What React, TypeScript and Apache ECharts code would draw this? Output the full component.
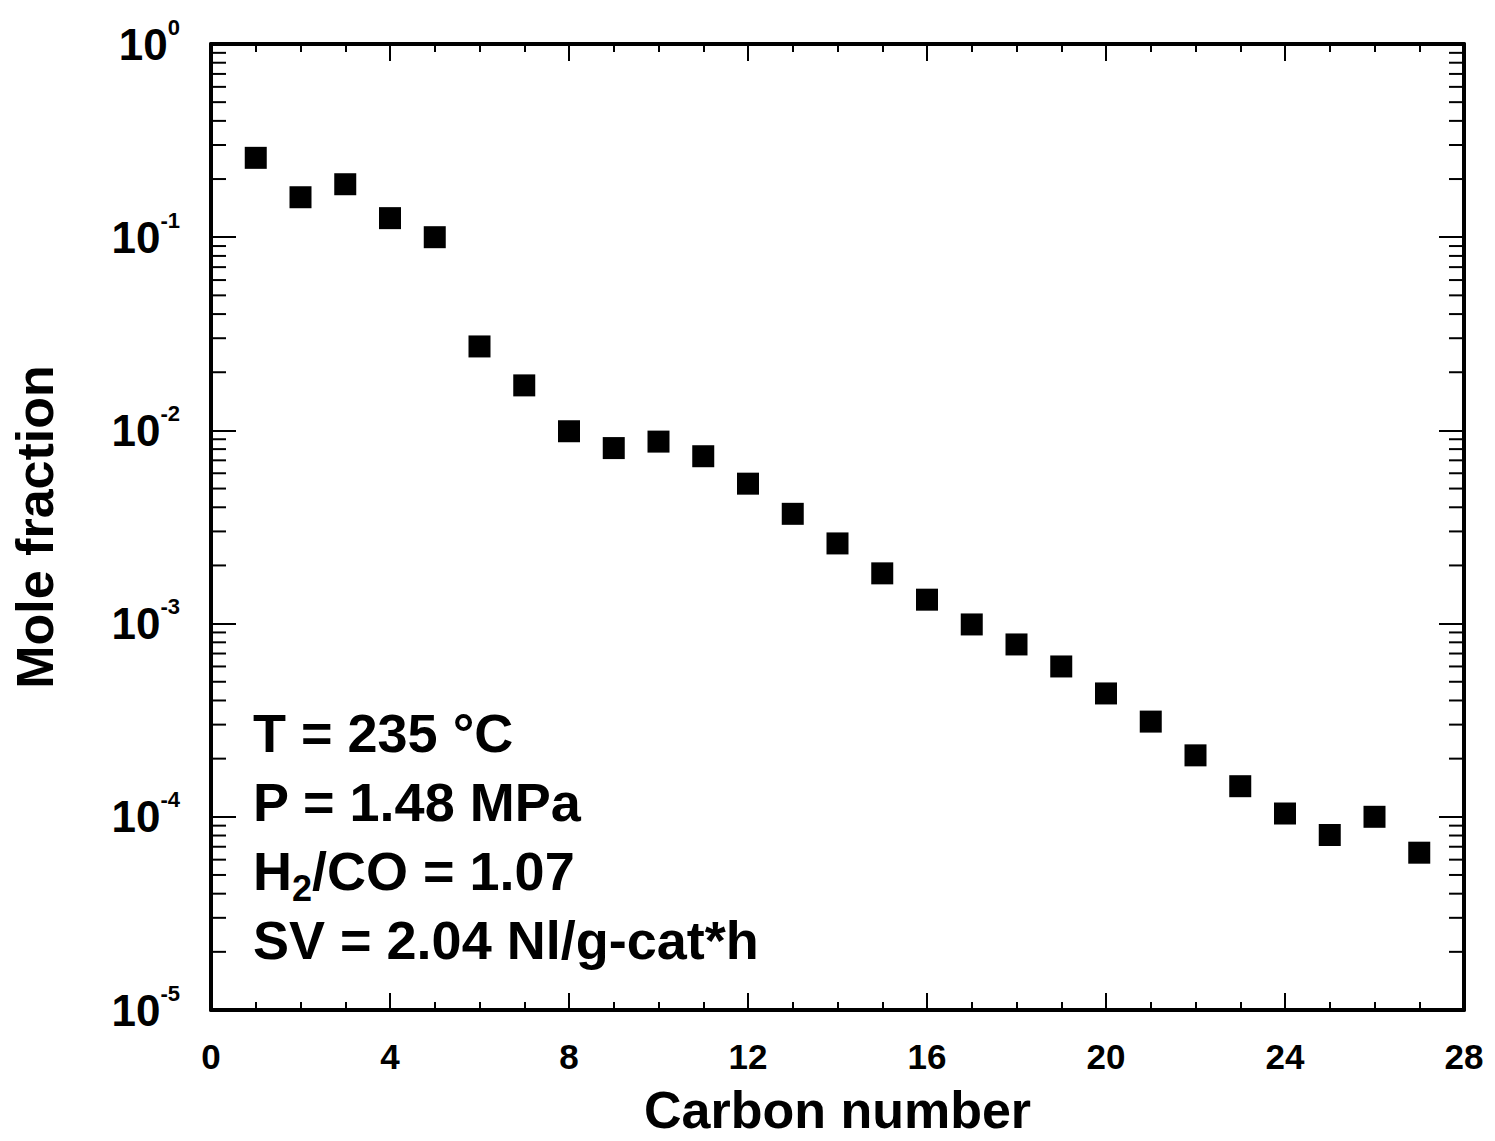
import React, { useEffect, useRef } from "react";
import * as echarts from "echarts";

// Carbon number distribution of the products
const carbonNumbers = [
  1, 2, 3, 4, 5, 6, 7, 8, 9, 10, 11, 12, 13, 14, 15, 16, 17, 18, 19, 20, 21, 22,
  23, 24, 25, 26, 27,
];
const moleFractions = [
  0.2575, 0.161, 0.188, 0.1255, 0.1, 0.0272, 0.0171, 0.0099, 0.0081, 0.00875,
  0.00735, 0.0053, 0.0037, 0.0026, 0.00182, 0.00133, 0.00099, 0.00078, 0.0006,
  0.000435, 0.000311, 0.000208, 0.000144, 0.000104, 0.0000805, 0.0001,
  0.0000652,
];

// Axis ranges
const xMin = 0;
const xMax = 28;
const xInterval = 4;
const yMin = 1e-5;
const yMax = 1;

// Minor ticks of the logarithmic axis: mantissas 2..9 in each decade
const decadeExponents = [-5, -4, -3, -2, -1];
const minorMantissas = [2, 3, 4, 5, 6, 7, 8, 9];

// Operating conditions printed inside the plot
const conditionLines = [
  "T = 235 °C",
  "P = 1.48 MPa",
  "{n|H}{s|2}{n|/CO = 1.07}",
  "SV = 2.04 Nl/g-cat*h",
];

const FONT = "'Liberation Sans', Arial, Helvetica, sans-serif";

export default function App() {
  const ref = useRef<HTMLDivElement>(null);

  useEffect(() => {
    if (!ref.current) return;
    const chart = echarts.init(ref.current, undefined, { renderer: "svg" });

    const minorTickValues: number[][] = [];
    decadeExponents.forEach((e) => {
      minorMantissas.forEach((m) => {
        minorTickValues.push([xMin, m * Math.pow(10, e)]);
      });
    });

    const gridLeft = 211;
    const gridTop = 44;
    const gridRight = 31;
    const gridBottom = 128;

    const xAxisCommon = {
      type: "value" as const,
      min: xMin,
      max: xMax,
      interval: xInterval,
      splitLine: { show: false },
      axisLine: { show: true, onZero: false, lineStyle: { color: "#000", width: 4 } },
      axisTick: { show: true, inside: true, length: 17, lineStyle: { color: "#000", width: 2 } },
      minorTick: { show: true, splitNumber: 4, length: 8, lineStyle: { color: "#000", width: 2 } },
      minorSplitLine: { show: false },
    };

    const yAxisCommon = {
      type: "log" as const,
      logBase: 10,
      min: yMin,
      max: yMax,
      splitLine: { show: false },
      axisLine: { show: true, onZero: false, lineStyle: { color: "#000", width: 4 } },
      axisTick: { show: true, inside: true, length: 25, lineStyle: { color: "#000", width: 2 } },
      minorTick: { show: false },
    };

    const expLabel = (v: number) => {
      const e = Math.round(Math.log10(v));
      return `{b|10}{e|${e}}`;
    };

    chart.setOption({
      animation: false,
      backgroundColor: "#fff",
      grid: { left: gridLeft, top: gridTop, right: gridRight, bottom: gridBottom, containLabel: false },
      xAxis: [
        {
          ...xAxisCommon,
          position: "bottom",
          name: "Carbon number",
          nameLocation: "middle",
          nameGap: 74,
          nameTextStyle: { fontFamily: FONT, fontSize: 52, fontWeight: "bold", color: "#000" },
          axisLabel: {
            show: true,
            margin: 29,
            fontFamily: FONT,
            fontSize: 35,
            fontWeight: "bold",
            color: "#000",
          },
        },
        {
          ...xAxisCommon,
          position: "top",
          axisLabel: { show: false },
        },
      ],
      yAxis: [
        {
          ...yAxisCommon,
          position: "left",
          name: "Mole fraction",
          nameLocation: "middle",
          nameGap: 150,
          nameRotate: 90,
          nameTextStyle: { fontFamily: FONT, fontSize: 52, fontWeight: "bold", color: "#000" },
          axisLabel: {
            show: true,
            margin: 31,
            formatter: expLabel,
            rich: {
              b: { fontFamily: FONT, fontSize: 44, fontWeight: "bold", color: "#000", lineHeight: 56 },
              e: {
                fontFamily: FONT,
                fontSize: 22,
                fontWeight: "bold",
                color: "#000",
                lineHeight: 18,
                verticalAlign: "top",
              },
            },
          },
        },
        {
          ...yAxisCommon,
          position: "right",
          axisLabel: { show: false },
        },
      ],
      series: [
        {
          type: "custom",
          xAxisIndex: 0,
          yAxisIndex: 0,
          silent: true,
          z: 1,
          clip: false,
          data: minorTickValues,
          renderItem: (params: any, api: any) => {
            const cs = params.coordSys;
            const pt = api.coord([api.value(0), api.value(1)]);
            const y = pt[1];
            const len = 15;
            const style = { stroke: "#000", lineWidth: 2 };
            return {
              type: "group",
              children: [
                { type: "line", shape: { x1: cs.x, y1: y, x2: cs.x + len, y2: y }, style },
                {
                  type: "line",
                  shape: { x1: cs.x + cs.width - len, y1: y, x2: cs.x + cs.width, y2: y },
                  style,
                },
              ],
            };
          },
        },
        {
          type: "scatter",
          xAxisIndex: 0,
          yAxisIndex: 0,
          symbol: "rect",
          symbolSize: 22,
          z: 3,
          itemStyle: { color: "#000", opacity: 1 },
          data: carbonNumbers.map((c, i) => [c, moleFractions[i]]),
        },
      ],
      graphic: conditionLines.map((line, i) => ({
        type: "text",
        x: 253,
        y: 733 + i * 69,
        z: 10,
        style: {
          text: line,
          fill: "#000",
          fontFamily: FONT,
          fontSize: 54,
          fontWeight: "bold",
          align: "left",
          verticalAlign: "middle",
          rich: {
            n: { fontFamily: FONT, fontSize: 54, fontWeight: "bold", fill: "#000", lineHeight: 70 },
            s: {
              fontFamily: FONT,
              fontSize: 36,
              fontWeight: "bold",
              fill: "#000",
              lineHeight: 30,
              verticalAlign: "bottom",
            },
          },
        },
      })),
    });

    return () => {
      chart.dispose();
    };
  }, []);

  return (
    <div
      ref={ref}
      style={{ position: "fixed", left: 0, top: 0, width: 1495, height: 1141, background: "#fff" }}
    />
  );
}
